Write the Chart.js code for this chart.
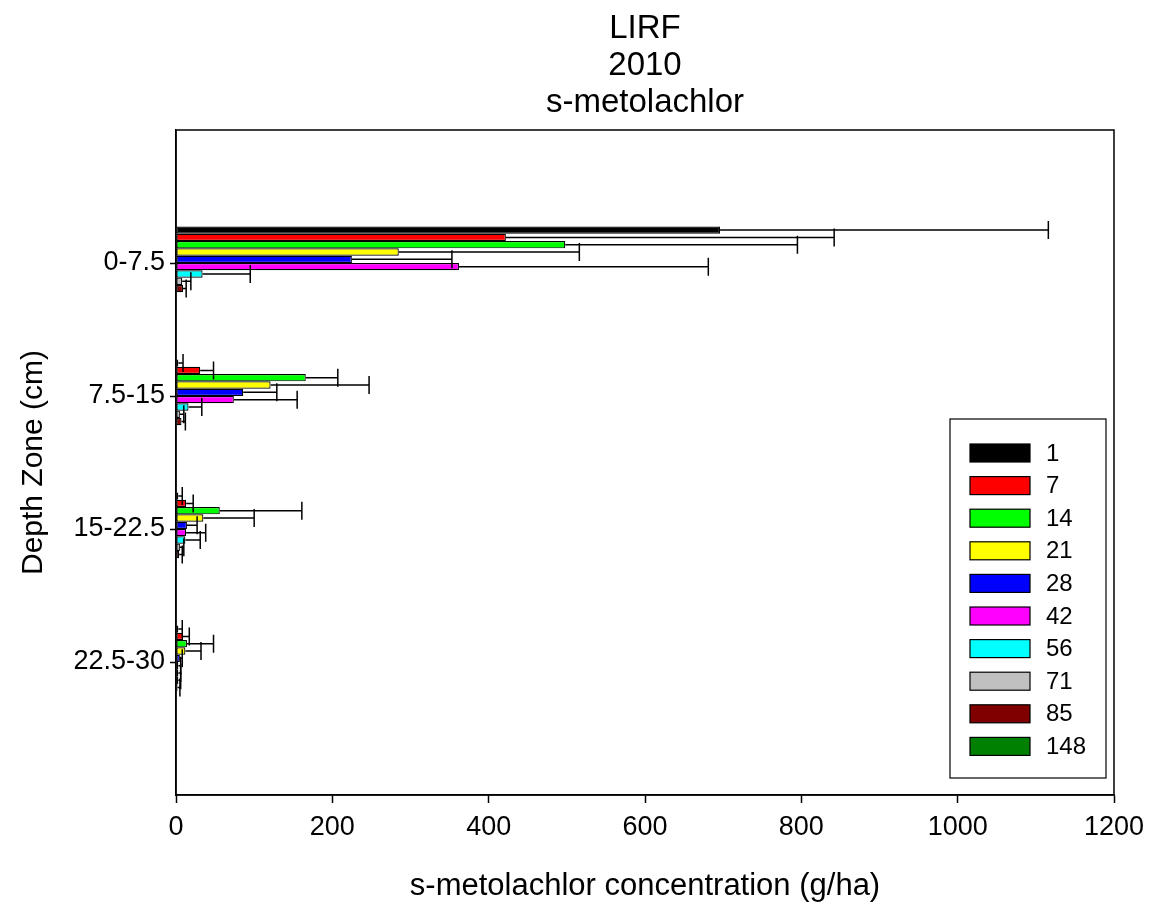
<!DOCTYPE html>
<html>
<head>
<meta charset="utf-8">
<title>LIRF 2010 s-metolachlor</title>
<script src="https://cdn.jsdelivr.net/npm/chart.js@4.4.1/dist/chart.umd.min.js"></script>
<style>
  html, body { margin: 0; padding: 0; background: #fff; }
  #wrap { width: 1149px; height: 905px; }
</style>
</head>
<body>
<div id="wrap"><canvas id="chart" width="1149" height="905"></canvas></div>
<script>
// depth zones (blank slots keep space above and below, like the original)
var depths = ['', '0-7.5', '7.5-15', '15-22.5', '22.5-30', ''];
var days = ['1', '7', '14', '21', '28', '42', '56', '71', '85', '148'];
var colors = ['#000000', '#ff0000', '#00ff00', '#ffff00', '#0000ff', '#ff00ff', '#00ffff', '#c0c0c0', '#800000', '#008000'];
var xTicks = [0, 200, 400, 600, 800, 1000, 1200];
var titleLines = ['LIRF', '2010', 's-metolachlor'];

// mean concentration (g/ha) per depth zone, one array per sampling day
var day1 = [696, 3, 3, 3];
var day7 = [422, 31, 13, 9];
var day14 = [498, 166, 56, 14];
var day21 = [285, 121, 35, 12];
var day28 = [225, 86, 14, 5];
var day42 = [362, 74, 13, 3];
var day56 = [34, 16, 12, 3];
var day71 = [8, 5, 5, 3];
var day85 = [9, 7, 4, 2];
var day148 = [null, null, null, null];

// error bar (+) per depth zone
var err1 = [420, 6, 5, 5];
var err7 = [420, 17, 9, 8];
var err14 = [297, 41, 105, 34];
var err21 = [231, 126, 65, 20];
var err28 = [128, 43, 13, 3];
var err42 = [319, 81, 25, 3];
var err56 = [61, 17, 19, 3];
var err71 = [11, 5, 5, 3];
var err85 = [4, 5, 4, 3];
var err148 = [null, null, null, null];

var means = [day1, day7, day14, day21, day28, day42, day56, day71, day85, day148];
var errs = [err1, err7, err14, err21, err28, err42, err56, err71, err85, err148];

function pad(arr) {
  return [null].concat(arr).concat([null]);
}

var FONT = '"Liberation Sans", Arial, sans-serif';

var datasets = [];
for (var i = 0; i < days.length; i++) {
  datasets.push({
    label: days[i],
    data: pad(means[i]),
    errors: pad(errs[i]),
    backgroundColor: colors[i],
    borderColor: '#000',
    borderWidth: 1.2,
    borderSkipped: false,
    categoryPercentage: 0.55,
    barPercentage: 1.0
  });
}

// draws the + error bars with caps
var errorBars = {
  id: 'errorBars',
  afterDatasetsDraw: function(chart) {
    var ctx = chart.ctx;
    var xScale = chart.scales.x;
    ctx.save();
    ctx.strokeStyle = '#000';
    ctx.lineWidth = 1.5;
    chart.data.datasets.forEach(function(ds, di) {
      var meta = chart.getDatasetMeta(di);
      meta.data.forEach(function(bar, j) {
        var v = ds.data[j];
        var e = ds.errors[j];
        if (v == null || e == null) return;
        var x0 = xScale.getPixelForValue(v);
        var x1 = xScale.getPixelForValue(v + e);
        ctx.beginPath();
        ctx.moveTo(x0, bar.y);
        ctx.lineTo(x1, bar.y);
        ctx.moveTo(x1, bar.y - 9);
        ctx.lineTo(x1, bar.y + 9);
        ctx.stroke();
      });
    });
    ctx.restore();
  }
};

// title over the plot, frame round the plot, legend box inside it
var frameAndLegend = {
  id: 'frameAndLegend',
  afterDraw: function(chart) {
    var ctx = chart.ctx;
    var a = chart.chartArea;
    ctx.save();

    ctx.fillStyle = '#000';
    ctx.font = '33px ' + FONT;
    ctx.textAlign = 'center';
    ctx.textBaseline = 'middle';
    var cx = (a.left + a.right) / 2;
    titleLines.forEach(function(t, i) {
      ctx.fillText(t, cx, 29 + i * 37);
    });

    ctx.strokeStyle = '#000';
    ctx.lineWidth = 1.5;
    ctx.strokeRect(a.left, a.top, a.right - a.left, a.bottom - a.top);

    var w = 156, h = 359;
    var bx = a.right - 8 - w;
    var by = a.bottom - 17 - h;
    ctx.lineWidth = 1.2;
    ctx.fillStyle = '#fff';
    ctx.fillRect(bx, by, w, h);
    ctx.strokeRect(bx, by, w, h);

    ctx.font = '24px ' + FONT;
    ctx.textAlign = 'left';
    ctx.textBaseline = 'middle';
    chart.data.datasets.forEach(function(ds, i) {
      var cy = by + 34 + i * 32.6;
      ctx.fillStyle = ds.backgroundColor;
      ctx.fillRect(bx + 20, cy - 9, 60, 18);
      ctx.strokeStyle = '#000';
      ctx.strokeRect(bx + 20, cy - 9, 60, 18);
      ctx.fillStyle = '#000';
      ctx.fillText(ds.label, bx + 96, cy + 1);
    });
    ctx.restore();
  }
};

var ctx = document.getElementById('chart').getContext('2d');
var chart = new Chart(ctx, {
  type: 'bar',
  data: {
    labels: depths,
    datasets: datasets
  },
  options: {
    indexAxis: 'y',
    responsive: false,
    animation: false,
    layout: { padding: { top: 130, right: 35, bottom: 0, left: 0 } },
    scales: {
      x: {
        type: 'linear',
        min: 0,
        max: 1200,
        afterBuildTicks: function(s) {
          s.ticks = xTicks.map(function(v) { return { value: v }; });
        },
        afterFit: function(s) {
          s.height = 110;
          s.paddingLeft = 0;
          s.paddingRight = 0;
        },
        grid: { drawOnChartArea: false, tickLength: 8, tickColor: '#000', tickWidth: 1.5 },
        border: { color: '#000', width: 1.5 },
        ticks: {
          color: '#000', font: { family: FONT, size: 27 }, padding: 8, maxRotation: 0,
          callback: function(v) { return String(v); }
        },
        title: { display: true, text: 's-metolachlor concentration (g/ha)', color: '#000',
                 font: { family: FONT, size: 31 }, padding: { top: 14, bottom: 0 } }
      },
      y: {
        type: 'category',
        offset: false,
        afterFit: function(s) { s.width = 176; },
        grid: {
          offset: false,
          drawOnChartArea: false,
          tickLength: 6,
          tickWidth: 1.5,
          tickColor: function(c) { return depths[c.index] ? '#000' : 'rgba(0,0,0,0)'; }
        },
        border: { color: '#000', width: 1.5 },
        ticks: { color: '#000', font: { family: FONT, size: 27 }, padding: 5, autoSkip: false },
        title: { display: true, text: 'Depth Zone (cm)', color: '#000',
                 font: { family: FONT, size: 30 }, padding: { top: 16, bottom: 0 } }
      }
    },
    plugins: {
      legend: { display: false },
      tooltip: { enabled: false },
      title: { display: false }
    }
  },
  plugins: [errorBars, frameAndLegend]
});
</script>
</body>
</html>
